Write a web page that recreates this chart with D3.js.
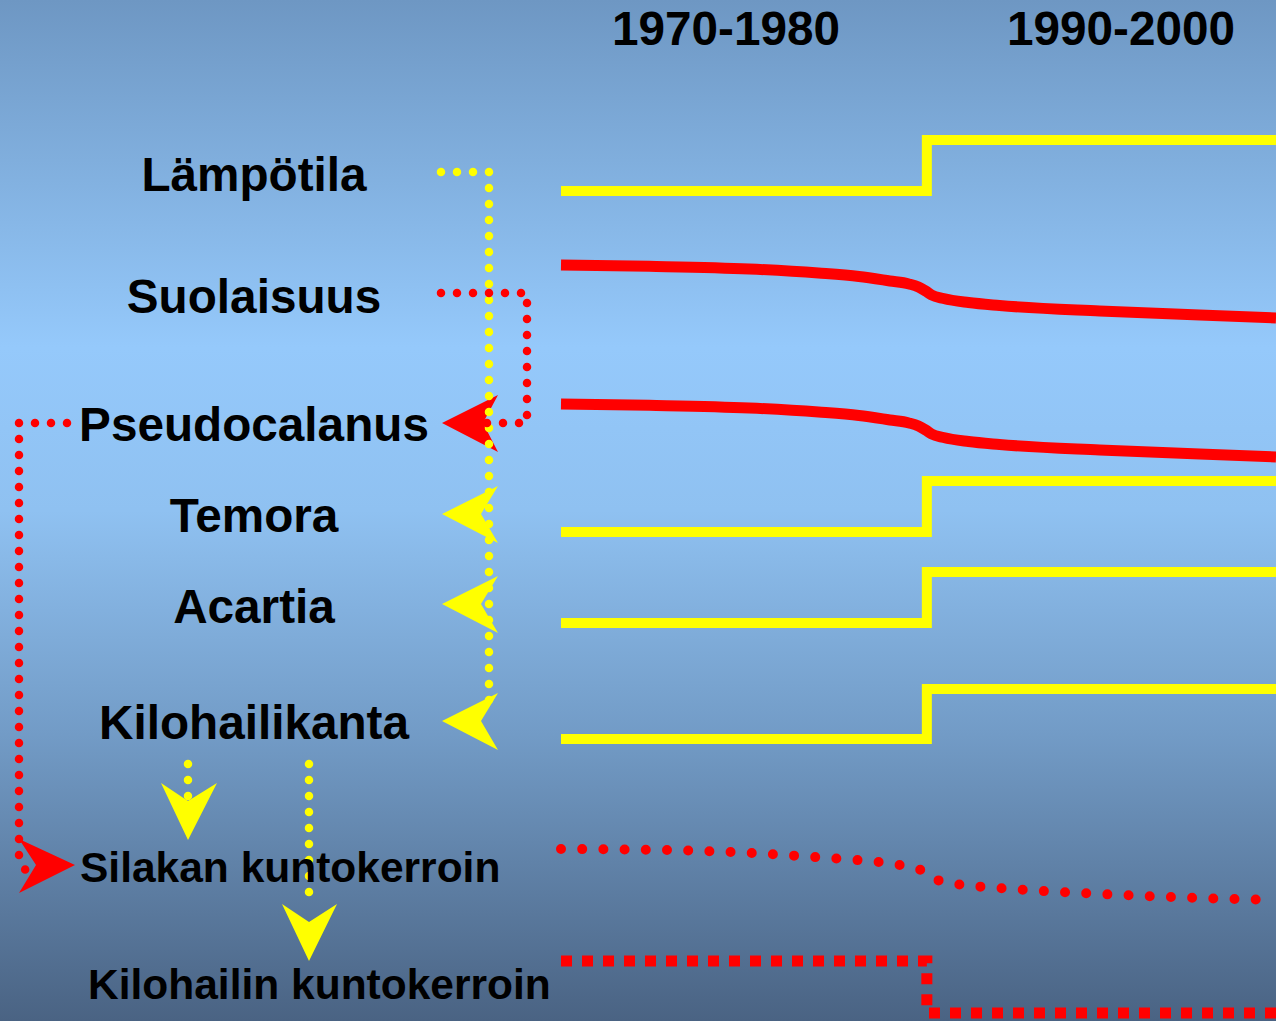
<!DOCTYPE html>
<html><head><meta charset="utf-8">
<script src="https://cdn.jsdelivr.net/npm/d3@7"></script>
<style>html,body{margin:0;padding:0;overflow:hidden}svg{display:block}</style>
</head><body>
<script>
// ---- data ----
const periods = ["1970-1980", "1990-2000"];
const rowLabels = ["Lämpötila", "Suolaisuus", "Pseudocalanus", "Temora", "Acartia", "Kilohailikanta"];
const conditionLabels = ["Silakan kuntokerroin", "Kilohailin kuntokerroin"];
const stepYears = [1970, 1985.35, 2000];
const stepUpValues = [0, 1, 1];      // Lämpötila, Temora, Acartia, Kilohailikanta
const stepDownValues = [1, 0, 0];    // Kilohailin kuntokerroin
const declineYears = [1970, 1973.7, 1977.9, 1980.8, 1982.5, 1983.8, 1984.6, 1985.0, 1985.3, 1985.55, 1986.05, 1987.1, 1988.4, 1992.6, 1996.8, 2000];
const salinityValues = [1, 0.975, 0.925, 0.849, 0.783, 0.698, 0.642, 0.585, 0.509, 0.434, 0.368, 0.292, 0.236, 0.132, 0.057, 0];
const pseudocalanusValues = [1, 0.975, 0.925, 0.849, 0.783, 0.698, 0.642, 0.585, 0.509, 0.434, 0.368, 0.292, 0.236, 0.132, 0.057, 0];
const herringYears = [1970, 1974.4, 1978.0, 1980.6, 1982.4, 1984.2, 1985.1, 1985.8, 1986.6, 1988.4, 1992.6, 1996.8, 2000];
const herringValues = [1, 0.98, 0.922, 0.843, 0.784, 0.686, 0.588, 0.392, 0.314, 0.235, 0.118, 0.039, 0];

// ---- layout ----
const W = 1276, H = 1021;
const rowRanges = {
  "Lämpötila": [191, 140], "Suolaisuus": [318, 265], "Pseudocalanus": [457, 404],
  "Temora": [532, 481], "Acartia": [623, 572], "Kilohailikanta": [739, 689],
  "Silakan": [900, 849], "Kilohailin": [1013, 961]
};
const labelBaselines = [191, 313, 441, 532, 623, 739];
const YELLOW = "#ffff00", RED = "#ff0000";
const FONT = "'Liberation Sans', Arial, Helvetica, sans-serif";

const svg = d3.select("body").append("svg").attr("width", W).attr("height", H);
const defs = svg.append("defs");
const grad = defs.append("linearGradient").attr("id", "bg").attr("x1", 0).attr("y1", 0).attr("x2", 0).attr("y2", 1);
[[0, "#6e97c3"], [0.34, "#95c9fb"], [0.5, "#8fc1f1"], [0.72, "#729bc6"], [1, "#4a6383"]]
  .forEach(([o, c]) => grad.append("stop").attr("offset", o).attr("stop-color", c));
svg.append("rect").attr("width", W).attr("height", H).attr("fill", "url(#bg)");

const x = d3.scaleLinear().domain([1970, 2000]).range([561, 1276]);
const yRow = name => d3.scaleLinear().domain([0, 1]).range(rowRanges[name]);

function series(years, values) { return years.map((yr, i) => ({ yr, v: values[i] })); }
function drawLine(name, years, values, curve, style) {
  const y = yRow(name);
  const line = d3.line().x(d => x(d.yr)).y(d => y(d.v)).curve(curve);
  const p = svg.append("path").datum(series(years, values)).attr("d", line).attr("fill", "none");
  Object.entries(style).forEach(([k, v]) => p.attr(k, v));
  return p;
}

// step lines (yellow)
["Lämpötila", "Temora", "Acartia", "Kilohailikanta"].forEach(n =>
  drawLine(n, stepYears, stepUpValues, d3.curveStepAfter,
    { stroke: YELLOW, "stroke-width": 10, "stroke-linejoin": "miter", "stroke-linecap": "butt" }));
// declining red lines
drawLine("Suolaisuus", declineYears, salinityValues, d3.curveMonotoneX,
  { stroke: RED, "stroke-width": 11, "stroke-linecap": "butt" });
drawLine("Pseudocalanus", declineYears, pseudocalanusValues, d3.curveMonotoneX,
  { stroke: RED, "stroke-width": 11, "stroke-linecap": "butt" });
// herring condition: round dots
drawLine("Silakan", herringYears, herringValues, d3.curveMonotoneX,
  { stroke: RED, "stroke-width": 10, "stroke-linecap": "round", "stroke-dasharray": "0 21.2" });
// sprat condition: square dots
drawLine("Kilohailin", stepYears, stepDownValues, d3.curveStepAfter,
  { stroke: RED, "stroke-width": 11, "stroke-linecap": "butt", "stroke-linejoin": "miter", "stroke-dasharray": "11 10" });

// ---- connectors ----
function dotted(d, color, w, gap) {
  svg.append("path").attr("d", d).attr("fill", "none").attr("stroke", color)
    .attr("stroke-width", w).attr("stroke-linecap", "round").attr("stroke-dasharray", `0 ${gap}`);
}
function arrow(tip, notch, b1, b2, color) {
  svg.append("path").attr("d", `M${tip}L${b1}L${notch}L${b2}Z`).attr("fill", color);
}
// red arrow to Pseudocalanus
arrow([442, 423], [483, 423], [498, 395], [498, 452], RED);
// yellow arrows
[514, 604, 721].forEach(yy => arrow([442, yy], [481, yy], [498, yy - 28], [498, yy + 29], YELLOW));
// red arrow to Silakan
arrow([75, 865], [36, 865], [19, 839], [19, 893], RED);
// yellow down arrows
arrow([188, 840], [188, 801], [161, 783], [217, 783], YELLOW);
arrow([309, 961], [309, 922], [282, 904], [337, 904], YELLOW);

// yellow temperature connector
dotted("M441,172H489V716", YELLOW, 8.5, 16);
// red salinity connector
dotted("M441,293H527V423H485", RED, 8.5, 16);
// red Pseudocalanus -> Silakan connector
dotted("M67,423H19V858L26,871", RED, 8.5, 16);
// yellow Kilohailikanta -> condition connectors
dotted("M188,764V800", YELLOW, 8.5, 16);
dotted("M309,764V908", YELLOW, 8.5, 16);

// ---- text ----
svg.selectAll("text.period").data(periods).join("text").attr("class", "period")
  .attr("x", (d, i) => [612, 1007][i]).attr("y", 45)
  .attr("font-family", FONT).attr("font-weight", "bold").attr("font-size", 47.7).attr("fill", "#000")
  .text(d => d);
svg.selectAll("text.row").data(rowLabels).join("text").attr("class", "row")
  .attr("x", 254).attr("y", (d, i) => labelBaselines[i]).attr("text-anchor", "middle")
  .attr("font-family", FONT).attr("font-weight", "bold").attr("font-size", 47.7).attr("fill", "#000")
  .text(d => d);
svg.selectAll("text.cond").data(conditionLabels).join("text").attr("class", "cond")
  .attr("x", (d, i) => [80, 88][i]).attr("y", (d, i) => [882, 999][i])
  .attr("font-family", FONT).attr("font-weight", "bold").attr("font-size", 42.5).attr("fill", "#000")
  .text(d => d);
</script>
</body></html>
